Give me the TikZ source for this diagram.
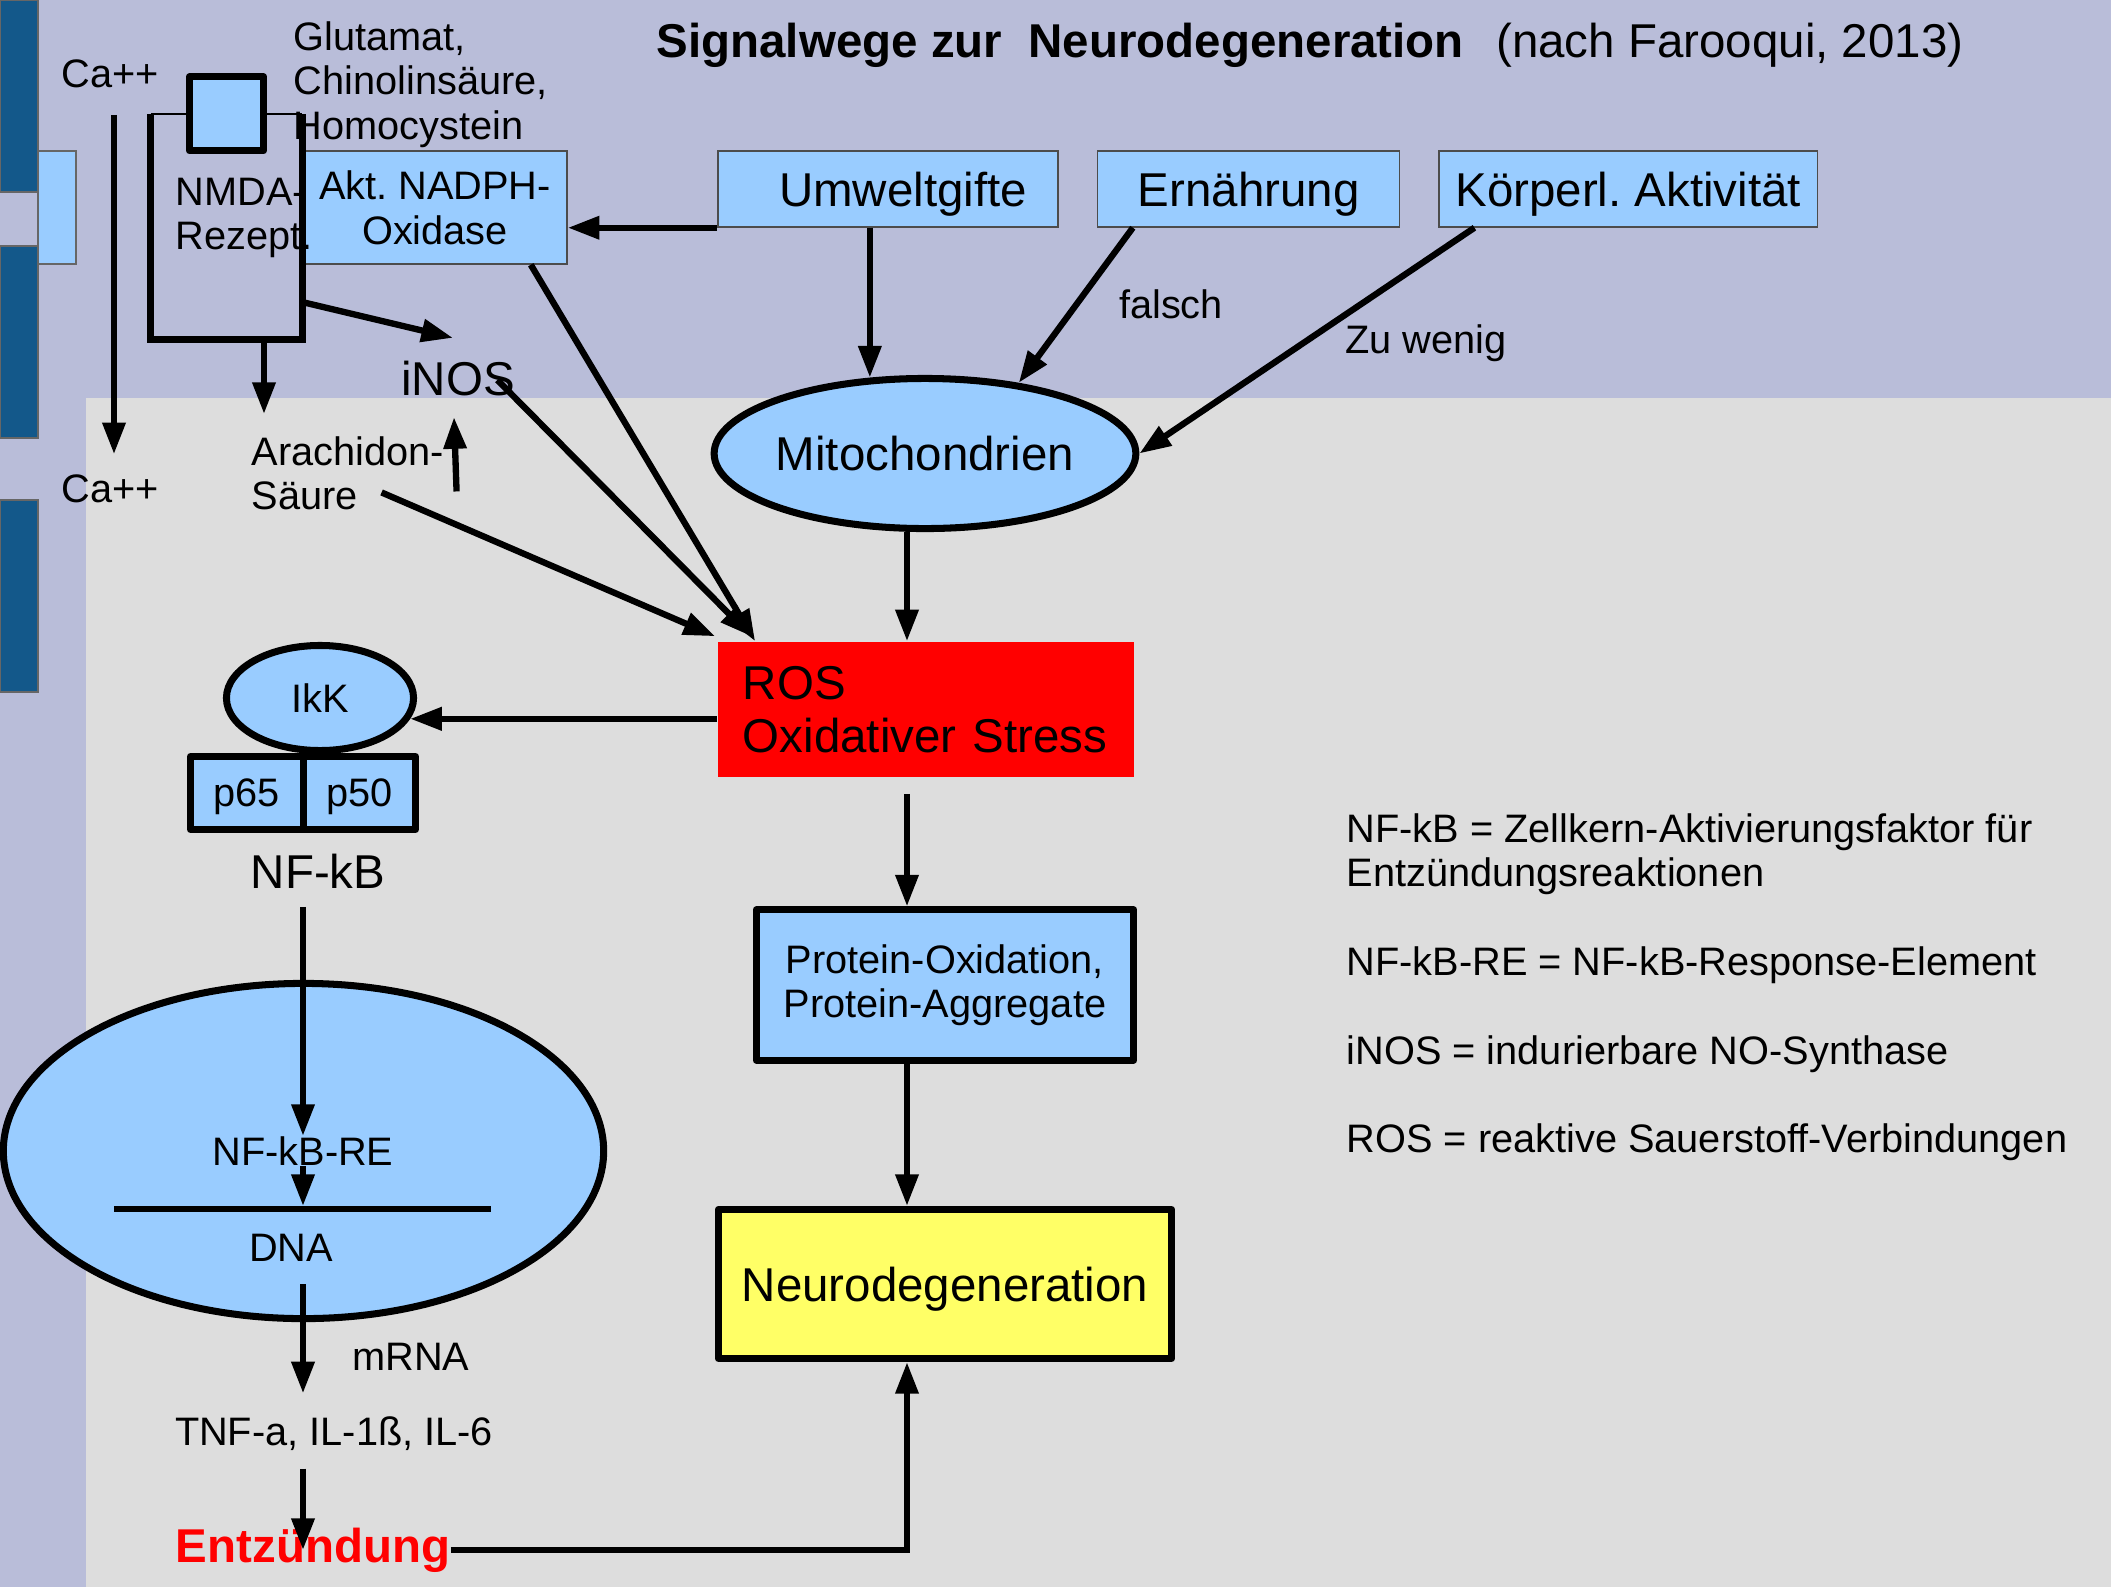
\documentclass[tikz,border=0pt]{standalone}
\usepackage{fontspec}
\setmainfont{Liberation Sans}
\usepackage{tikz}
\usetikzlibrary{shapes.geometric}
\usetikzlibrary{arrows.meta}
\usepackage{xcolor}
\definecolor{lavender}{RGB}{185,189,217}
\definecolor{greybg}{RGB}{221,221,221}
\definecolor{lightblue}{RGB}{153,204,255}
\definecolor{darkbar}{RGB}{19,88,138}
\definecolor{neuroyellow}{RGB}{255,255,102}
\frenchspacing

\begin{document}
\begin{tikzpicture}[x=0.01cm,y=-0.01cm,>={Triangle[length=9pt,width=6.3pt]},
  big/.style={font=\fontsize{13.5}{15}\selectfont},
  small/.style={font=\fontsize{11.3}{12.6}\selectfont},
  plain/.style={inner sep=0pt},
  box/.style={rectangle,draw=black!70,thin,fill=lightblue,inner sep=0pt,text depth=0pt},
  thickbox/.style={rectangle,draw,line width=2pt,line join=round,inner sep=0pt},
  oval/.style={ellipse,draw,line width=2pt,fill=lightblue,inner sep=0pt},
  arr/.style={->,line width=1.8pt}]
\useasboundingbox (0,0) rectangle (2111,1587);
\fill [lavender] (0,0) rectangle (2111,1587);
\fill [greybg] (86,398) rectangle (2111,1587);
\draw [fill=darkbar,draw=black!60] (0,0) rectangle (38,192);
\draw [fill=darkbar,draw=black!60] (0,246) rectangle (38,438);
\draw [fill=darkbar,draw=black!60] (0,500) rectangle (38,692);
\draw [fill=lightblue,draw=black!60] (38,151) rectangle (76,264);
\coordinate (spine) at (907,0);
\coordinate (dnaleft) at (114,1209);
\coordinate (dnaright) at (491,1209);

\node [big,plain,anchor=base west,at={(656,57)}] (title) {\bfseries Signalwege zur~~Neurodegeneration};
\node [big,plain,anchor=base west,xshift=0.31cm,at=(title.base east)] (source) {(nach Farooqui, 2013)};
\node [small,plain,at={(110,74)}] (catop) {Ca++};
\node [small,plain,at={(110,489)}] (cabot) {Ca++};
\node [box,small,align=center,minimum width=2.64cm,minimum height=1.13cm,at={(435,207.5)}] (nadph) {Akt. NADPH-\\Oxidase};
\node [minimum width=1.51cm,minimum height=2.25cm,inner sep=0pt,outer sep=0pt,at={(226.5,226.5)}] (nmda) {};
\node [thickbox,fill=lightblue,minimum width=0.74cm,minimum height=0.74cm,at=(nmda.north)] (channel) {};
\node [small,plain,align=left,anchor=north west,at={(175,177)}] (nmdalabel) {NMDA-\\Rezept.};
\node [small,plain,align=left,anchor=north west,at={(293,21)}] (agonist) {Glutamat,\\Chinolinsäure,\\Homocystein};
\node [big,plain,at={(458,379)}] (inos) {iNOS};
\node [small,plain,align=left,anchor=north west,at={(251,436)}] (arach) {Arachidon-\\Säure};
\node [box,big,minimum width=3.4cm,minimum height=0.76cm,at={(888,189)}] (umwelt) {\hspace{0.3cm}Umweltgifte};
\node [box,big,minimum width=3.02cm,minimum height=0.76cm,right=0.38cm,at=(umwelt.east)] (ernaehrung) {Ernährung};
\node [box,big,minimum width=3.78cm,minimum height=0.76cm,right=0.38cm,at=(ernaehrung.east)] (koerper) {Körperl. Aktivität};
\node [small,plain,at={(1171,304)}] (falsch) {falsch};
\node [small,plain,at={(1426,343)}] (zuwenig) {Zu wenig};
\node [oval,big,minimum width=4.13cm,minimum height=1.5cm,at={(925,453.5)}] (mito) {Mitochondrien};
\node [rectangle,fill=red,big,align=left,text width=3.66cm,inner xsep=0.25cm,inner ysep=0pt,minimum height=1.35cm,at={(926,709.5)}] (ros) {ROS\\Oxidativer Stress};
\node [thickbox,fill=lightblue,small,align=center,minimum width=3.77cm,minimum height=1.5cm,at={(945,985)}] (protein) {Protein-Oxidation,\\Protein-Aggregate};
\node [thickbox,fill=neuroyellow,big,text depth=0pt,minimum width=4.53cm,minimum height=1.49cm,at={(945,1284)}] (neuro) {Neurodegeneration};
\node [oval,small,minimum width=1.87cm,minimum height=1.05cm,at={(320,698)}] (ikk) {IkK};
\node [thickbox,fill=lightblue,small,text depth=0pt,outer sep=0pt,minimum width=1.125cm,minimum height=0.73cm,at={(246.75,793)}] (p65) {p65};
\node [thickbox,fill=lightblue,small,text depth=0pt,outer sep=0pt,minimum width=1.125cm,minimum height=0.73cm,right=0pt,at=(p65.east)] (p50) {p50};
\node [big,plain,at={(318,871)}] (nfkb) {NF-kB};
\node [oval,minimum width=6cm,minimum height=3.35cm,at={(303.5,1151)}] (nucleus) {};
\node [small,plain,at={(303,1151)}] (nfkbre) {NF-kB-RE};
\node [small,plain,at={(291,1248)}] (dna) {DNA};
\node [small,plain,at={(411,1357)}] (mrna) {mRNA};
\node [small,plain,at={(334,1434)}] (tnf) {TNF-a, IL-1ß, IL-6};
\node [big,plain,text=red,at={(313,1550)}] (entz) {\bfseries Entzündung};
\node [small,plain,align=left,anchor=north west,at={(1346,813)}] (legend) {NF-kB = Zellkern-Aktivierungsfaktor für\\Entzündungsreaktionen\\[12.6pt]NF-kB-RE = NF-kB-Response-Element\\[12.6pt]iNOS = indurierbare NO-Synthase\\[12.6pt]ROS = reaktive Sauerstoff-Verbindungen};

\draw [line width=2pt] (nmda.north west) -- (nmda.south west) -- (nmda.south east) -- (nmda.north east);
\draw [thin] (nmda.north west) -- (channel.west);
\draw [thin] (channel.east) -- (nmda.north east);
\draw [line width=1.8pt] (dnaleft) -- (dnaright);
\draw [arr,shorten <=0.26cm,shorten >=0.2cm] ([shift={(4,0)}]catop.south) -- ([shift={(4,0)}]cabot.north);
\draw [arr,shorten >=0.22cm] ([shift={(37.5,0)}]nmda.south) -- ([shift={(13,0)}]arach.north west);
\draw [arr] ([shift={(0,75.5)}]nmda.east) -- ([shift={(-5,-23)}]inos.north);
\draw [arr] ([shift={(12,18)}]arach.east) -- ([shift={(-4,20)}]inos.south);
\draw [arr] ([shift={(-18,1)}]inos.east) -- ([shift={(34,-5)}]ros.north west);
\draw [arr] ([shift={(-37,0)}]nadph.south east) -- ([shift={(38,0)}]ros.north west);
\draw [arr] ([shift={(-63,19)}]arach.east) -- ([shift={(-2,-5)}]ros.north west);
\draw [arr] (umwelt.south west) -- (umwelt.south west -| nadph.east);
\draw [arr] (umwelt.south -| mito.126) -- (mito.126);
\draw [arr] ([shift={(36,0)}]ernaehrung.south west) -- (mito.37);
\draw [arr] ([shift={(36,0)}]koerper.south west) -- (mito.east);
\draw [arr] (mito.south -| spine) -- (ros.north -| spine);
\draw [arr,shorten <=0.16cm] (ros.south -| spine) -- (protein.north -| spine);
\draw [arr] (protein.south -| spine) -- (neuro.north -| spine);
\draw [arr] (entz.east) -| (neuro.south -| spine);
\draw [arr] (ikk.347 -| ros.west) -- (ikk.347);
\draw [arr,shorten <=0.18cm] (nfkb.south -| nfkbre.north) -- (nfkbre.north);
\draw [arr,shorten >=0.03cm] (nfkbre.south) -- (nfkbre.south |- dnaleft);
\draw [arr,shorten <=0.22cm,shorten >=0.23cm] (dna.south -| nfkbre.south) -- (tnf.north -| nfkbre.south);
\draw [arr,shorten <=0.17cm] (tnf.south -| nfkbre.south) -- (entz.center -| nfkbre.south);
\end{tikzpicture}
\end{document}
